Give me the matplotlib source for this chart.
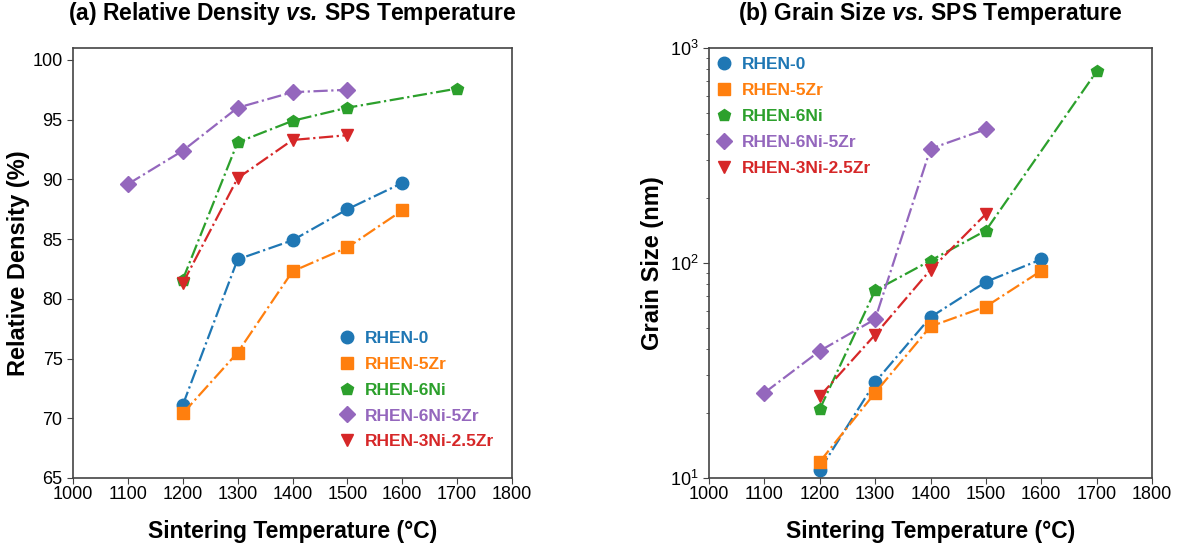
import matplotlib
matplotlib.use("Agg")
import matplotlib.pyplot as plt

plt.rcParams['font.family'] = ['Liberation Sans', 'DejaVu Sans']
plt.rcParams['mathtext.fontset'] = 'custom'
plt.rcParams['mathtext.rm'] = 'Liberation Sans'
plt.rcParams['mathtext.it'] = 'Liberation Sans:italic'
plt.rcParams['mathtext.bf'] = 'Liberation Sans:bold'
plt.rcParams['mathtext.bfit'] = 'Liberation Sans:bold:italic'

# Data
labels = ['RHEN-0', 'RHEN-5Zr', 'RHEN-6Ni', 'RHEN-6Ni-5Zr', 'RHEN-3Ni-2.5Zr']
colors = ['#1f77b4', '#ff7f0e', '#2ca02c', '#9467bd', '#d62728']
markers = ['o', 's', 'p', 'D', 'v']

temp_0 = [1200, 1300, 1400, 1500, 1600]
temp_5zr = [1200, 1300, 1400, 1500, 1600]
temp_6ni = [1200, 1300, 1400, 1500, 1700]
temp_6ni5zr = [1100, 1200, 1300, 1400, 1500]
temp_3ni = [1200, 1300, 1400, 1500]

dens_0 = [71.1, 83.3, 84.9, 87.5, 89.7]
dens_5zr = [70.4, 75.5, 82.3, 84.3, 87.4]
dens_6ni = [81.6, 93.1, 94.9, 96.0, 97.6]
dens_6ni5zr = [89.6, 92.4, 96.0, 97.3, 97.5]
dens_3ni = [81.3, 90.1, 93.3, 93.7]

grain_0 = [10.9, 27.9, 56, 81.7, 104]
grain_5zr = [11.9, 24.9, 50.7, 62.7, 92]
grain_6ni = [20.9, 74.5, 102.6, 141.6, 778]
grain_6ni5zr = [24.9, 39, 54.8, 340, 419]
grain_3ni = [24.0, 46.4, 93, 169]

temps = [temp_0, temp_5zr, temp_6ni, temp_6ni5zr, temp_3ni]
dens = [dens_0, dens_5zr, dens_6ni, dens_6ni5zr, dens_3ni]
grains = [grain_0, grain_5zr, grain_6ni, grain_6ni5zr, grain_3ni]

x_ticks = [1000, 1100, 1200, 1300, 1400, 1500, 1600, 1700, 1800]

W, H = 1180, 548
fig = plt.figure(figsize=(W / 100, H / 100), dpi=100)
ax1 = fig.add_axes([73 / W, 1 - 478 / H, 439 / W, 430 / H])
ax2 = fig.add_axes([709 / W, 1 - 478 / H, 443 / W, 430 / H])


def draw(ax, ys_list):
    for t, y, c, m, lab in zip(temps, ys_list, colors, markers, labels):
        ms = 8 if m == 'D' else 9
        ax.plot(t, y, color=c, marker=m, markersize=ms, linestyle='-.',
                linewidth=1.6, label=lab)
    ax.set_xlim(1000, 1800)
    ax.set_xticks(x_ticks)
    ax.tick_params(labelsize=13, direction='out', length=4, color='#444444')
    ax.tick_params(axis='x', pad=2)
    ax.set_xlabel('Sintering Temperature (°C)', fontsize=16.5, fontweight='bold',
                  labelpad=12)
    for sp in ax.spines.values():
        sp.set_color('#444444')
        sp.set_linewidth(1.2)


def style_legend(leg):
    for txt, c in zip(leg.get_texts(), colors):
        txt.set_color(c)
        txt.set_fontweight('bold')
    for h in leg.legend_handles:
        h.set_linestyle('none')


# (a) relative density
draw(ax1, dens)
ax1.set_ylim(65, 101)
ax1.set_yticks([65, 70, 75, 80, 85, 90, 95, 100])
ax1.set_ylabel('Relative Density (%)', fontsize=17, fontweight='bold', labelpad=2)
ax1.set_title(r'(a) Relative Density $\mathbfit{vs.}\,$SPS Temperature',
              fontsize=16.5, fontweight='bold', pad=20)
leg1 = ax1.legend(loc='lower right', frameon=False, fontsize=12.5, handlelength=0.9,
                  handletextpad=0.6, labelspacing=0.62, bbox_to_anchor=(0.995, 0.03))
style_legend(leg1)

# (b) grain size
draw(ax2, grains)
ax2.set_yscale('log')
ax2.set_ylim(10, 1000)
ax2.tick_params(which='minor', direction='out', length=2.5, color='#444444')
ax2.set_ylabel('Grain Size (nm)', fontsize=17, fontweight='bold', labelpad=4)
ax2.set_title(r'(b) Grain Size $\mathbfit{vs.}\,$SPS Temperature',
              fontsize=16.5, fontweight='bold', pad=20)
leg2 = ax2.legend(loc='upper left', frameon=False, fontsize=12.5, handlelength=0.9,
                  handletextpad=0.6, labelspacing=0.62, bbox_to_anchor=(-0.02, 1.015))
style_legend(leg2)

fig.savefig('out.png', dpi=100, facecolor='white')
